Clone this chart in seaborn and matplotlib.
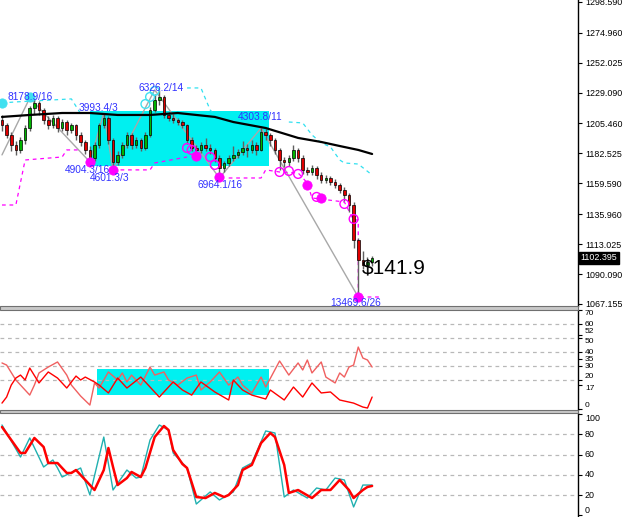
import seaborn as sns
import matplotlib.pyplot as plt
from matplotlib.patches import Rectangle

sns.set_style("white")
plt.rcParams['font.family'] = ['Liberation Sans', 'DejaVu Sans']

# price candles, bar 0 .. 80
opens = [1208.0, 1204.3, 1196.7, 1189.0, 1185.2, 1192.9, 1202.1, 1217.4, 1221.2, 1215.8,
         1208.2, 1204.3, 1209.7, 1202.1, 1206.6, 1200.5, 1204.3, 1196.7, 1191.3, 1185.2,
         1179.0, 1189.0, 1204.3, 1209.7, 1192.9, 1176.0, 1181.4, 1189.0, 1196.7, 1189.0,
         1192.9, 1186.7, 1196.7, 1215.8, 1223.5, 1225.8, 1212.0, 1209.7, 1208.2, 1206.6,
         1204.3, 1192.9, 1186.7, 1185.2, 1189.0, 1186.7, 1185.2, 1179.0, 1171.4, 1175.2,
         1179.0, 1181.4, 1183.7, 1186.7, 1185.2, 1189.0, 1185.2, 1199.0, 1196.7, 1192.9,
         1185.2, 1177.5, 1176.0, 1179.0, 1185.2, 1179.0, 1169.9, 1168.3, 1171.4, 1166.0,
         1162.2, 1163.7, 1160.7, 1158.4, 1154.5, 1150.7, 1143.0, 1116.2, 1100.9, 1097.1,
         1099.4]
highs = [1212.0, 1206.0, 1199.0, 1192.0, 1195.0, 1204.0, 1219.0, 1224.6, 1222.5, 1217.0,
         1211.0, 1212.0, 1211.0, 1209.0, 1208.0, 1206.0, 1205.0, 1199.0, 1193.0, 1188.0,
         1191.0, 1206.0, 1213.5, 1211.0, 1194.0, 1184.0, 1191.0, 1199.0, 1198.0, 1195.0,
         1194.0, 1199.0, 1218.0, 1228.0, 1231.2, 1227.0, 1214.0, 1213.0, 1210.0, 1208.0,
         1205.0, 1195.0, 1189.0, 1191.0, 1194.0, 1190.0, 1187.0, 1181.0, 1177.0, 1181.0,
         1188.0, 1186.0, 1192.0, 1190.0, 1193.0, 1191.0, 1202.0, 1201.0, 1198.0, 1194.0,
         1187.0, 1180.0, 1181.0, 1189.0, 1187.0, 1181.0, 1172.0, 1174.0, 1173.0, 1168.0,
         1166.0, 1165.0, 1163.0, 1160.0, 1157.0, 1152.0, 1145.0, 1118.0, 1108.0, 1103.0,
         1104.0]
lows = [1200.0, 1194.0, 1184.0, 1181.0, 1183.0, 1190.0, 1200.0, 1213.0, 1212.0, 1205.0,
        1201.0, 1202.0, 1199.0, 1200.0, 1197.0, 1198.0, 1193.0, 1188.0, 1182.0, 1175.9,
        1177.0, 1187.0, 1202.0, 1190.0, 1169.9, 1174.0, 1179.0, 1187.0, 1186.0, 1187.0,
        1184.0, 1185.0, 1195.0, 1214.0, 1220.0, 1210.0, 1207.0, 1206.0, 1204.0, 1202.0,
        1190.0, 1184.0, 1181.4, 1183.0, 1184.0, 1182.0, 1176.0, 1163.7, 1168.0, 1173.0,
        1177.0, 1179.0, 1181.0, 1180.0, 1183.0, 1181.0, 1184.0, 1193.0, 1188.0, 1182.0,
        1170.0, 1172.0, 1173.0, 1177.0, 1176.0, 1167.0, 1166.0, 1166.0, 1163.0, 1160.0,
        1160.0, 1158.0, 1156.0, 1152.0, 1146.0, 1138.0, 1110.0, 1072.5, 1094.0, 1089.0,
        1096.0]
closes = [1204.3, 1196.7, 1189.0, 1185.2, 1192.9, 1202.1, 1217.4, 1221.2, 1215.8, 1208.2,
          1204.3, 1209.7, 1202.1, 1206.6, 1200.5, 1204.3, 1196.7, 1191.3, 1185.2, 1179.0,
          1189.0, 1204.3, 1209.7, 1192.9, 1176.0, 1181.4, 1189.0, 1196.7, 1189.0, 1192.9,
          1186.7, 1196.7, 1215.8, 1223.5, 1225.8, 1212.0, 1209.7, 1208.2, 1206.6, 1204.3,
          1192.9, 1186.7, 1185.2, 1189.0, 1186.7, 1185.2, 1179.0, 1171.4, 1175.2, 1179.0,
          1181.4, 1183.7, 1186.7, 1185.2, 1189.0, 1185.2, 1199.0, 1196.7, 1192.9, 1185.2,
          1177.5, 1176.0, 1179.0, 1185.2, 1179.0, 1169.9, 1168.3, 1171.4, 1166.0, 1162.2,
          1163.7, 1160.7, 1158.4, 1154.5, 1150.7, 1143.0, 1116.2, 1100.9, 1097.1, 1099.4,
          1102.4]
bars = list(range(len(closes)))
last_price = 1102.395

# moving average
ma_bars = [0, 6, 13, 19, 25, 32, 38, 46, 50, 57, 64, 69, 73, 77, 80]
ma_vals = [1210.5, 1212.0, 1213.5, 1213.5, 1212.0, 1212.0, 1213.5, 1210.5, 1206.6, 1202.0,
           1194.4, 1191.3, 1188.2, 1185.2, 1182.1]

# zigzag
zz_bars = [0, 6, 19, 22, 24, 33, 47, 56, 77]
zz_vals = [1181.4, 1225.0, 1176.0, 1213.5, 1169.9, 1231.2, 1163.7, 1202.0, 1072.5]

# upper (cyan) and lower (magenta) dashed envelopes, drawn as segments
up_segments = [
    ([0, 3, 15, 17], [1221.2, 1222.0, 1224.3, 1213.0]),
    ([40, 43, 45, 46], [1232.7, 1232.7, 1215.8, 1212.0]),
    ([62, 65, 67, 69, 71, 73, 74, 77, 80],
     [1206.6, 1205.9, 1196.7, 1190.6, 1187.5, 1177.5, 1175.2, 1174.4, 1166.0]),
]
lo_segments = [
    ([0, 3, 5, 13, 14, 17], [1143.0, 1143.0, 1177.5, 1179.8, 1185.2, 1185.2]),
    ([24, 32, 33, 40], [1169.9, 1169.9, 1175.2, 1179.8]),
    ([49, 56, 57, 60, 64, 66, 67, 74, 76, 77, 77, 82],
     [1163.7, 1163.7, 1169.9, 1168.3, 1167.6, 1159.9, 1148.4, 1145.3, 1131.5, 1131.5,
      1072.5, 1072.5]),
]

# signal points
mag_fill_bars = [19, 24, 42, 47, 66, 69, 77]
mag_fill_vals = [1176.0, 1169.9, 1180.6, 1164.5, 1158.4, 1148.4, 1072.5]
mag_open_bars = [40, 41, 45, 46, 60, 62, 64, 68, 74, 76]
mag_open_vals = [1186.7, 1185.2, 1179.8, 1173.7, 1168.3, 1169.1, 1166.8, 1149.2, 1143.8, 1132.3]
cyan_fill_bars = [0, 6]
cyan_fill_vals = [1221.2, 1225.8]
cyan_open_bars = [31, 32, 33]
cyan_open_vals = [1220.4, 1225.8, 1230.4]

# zigzag labels
lbl_text = ["8178.9/16", "3993.4/3", "4904.3/16", "4601.3/3", "6326.2/14",
            "6964.1/16", "4303.8/11", "13469.6/26"]
lbl_bars = [1.1, 16.6, 13.6, 19.0, 29.6, 42.2, 51.0, 70.9]
lbl_vals = [1225.8, 1217.4, 1169.9, 1163.7, 1232.7, 1158.4, 1210.5, 1067.9]

# range box (bars, price range)
box_bars = [19, 57.7]
box_vals = [1172.9, 1215.1]

price_ticks = [1298.590, 1274.960, 1252.025, 1229.090, 1205.460, 1182.525,
               1159.590, 1135.960, 1113.025, 1090.090, 1067.155]

# middle indicator, two lines
adx_a_bars = [0, 1, 3, 6, 7, 8, 10, 12, 14, 15, 17, 19, 20, 21, 23, 25, 26, 27, 28, 30,
              32, 33, 35, 36, 38, 40, 42, 43, 45, 47, 49, 51, 52, 54, 56, 57, 60, 61, 62,
              64, 65, 66, 67, 69, 70, 72, 73, 74, 75, 76, 77, 78, 79, 80]
adx_a_vals = [32.4, 30.9, 20.3, 9.6, 16.7, 25.3, 29.5, 33.1, 23.8, 16.7, 8.9, 2.5, 18.2,
              14.6, 26.0, 20.3, 25.3, 18.9, 23.8, 16.7, 29.5, 23.8, 26.0, 20.3, 16.7, 21.7,
              23.8, 13.2, 18.9, 26.0, 16.7, 22.4, 16.7, 11.1, 22.4, 15.3, 33.8, 28.8, 23.8,
              32.4, 27.4, 34.5, 25.3, 33.1, 22.4, 18.2, 25.3, 22.4, 29.5, 30.9, 43.7, 35.9,
              34.5, 29.5]
adx_b_bars = [0, 1, 2, 3, 4, 5, 6, 8, 10, 12, 14, 16, 17, 18, 20, 21, 23, 25, 27, 30, 34,
              37, 39, 41, 43, 46, 49, 50, 52, 54, 57, 58, 61, 63, 65, 67, 69, 71, 73, 76,
              78, 79, 80]
adx_b_vals = [3.9, 8.2, 16.7, 21.7, 23.8, 20.3, 28.8, 18.2, 26.0, 21.7, 14.6, 23.1, 20.3,
              22.4, 18.9, 16.7, 11.1, 21.7, 14.6, 22.4, 8.2, 18.9, 13.2, 9.6, 18.9, 11.8,
              6.1, 20.3, 13.2, 9.6, 6.8, 13.2, 6.1, 15.3, 8.2, 18.2, 11.1, 11.8, 6.1, 3.9,
              1.1, 0.4, 8.2]
adx_box_bars = [20.5, 57.7]
adx_box_vals = [9.6, 28.1]
adx_ticks = [0, 17, 20, 30, 35, 40, 50, 52, 60, 70]

# stochastic
stk_bars = [0, 2, 4, 5, 7, 9, 10, 12, 14, 15, 16, 18, 20, 22, 23, 24, 25, 27, 28, 30, 31,
            33, 35, 36, 37, 39, 40, 42, 44, 46, 48, 49, 51, 52, 54, 56, 58, 59, 61, 62,
            64, 67, 69, 71, 73, 75, 76, 78, 79, 80]
stk_vals = [87.2, 74.4, 61.6, 61.6, 76.4, 67.5, 51.7, 51.7, 41.9, 41.9, 44.8, 35.0, 25.1,
            44.8, 66.5, 47.8, 30.0, 36.9, 42.9, 37.9, 46.8, 77.3, 88.2, 84.2, 64.5, 50.7,
            46.8, 18.2, 17.2, 22.2, 18.2, 20.2, 30.0, 44.8, 49.8, 71.4, 81.3, 77.3, 49.8,
            22.2, 25.1, 17.2, 25.1, 25.1, 35.0, 25.1, 17.2, 25.1, 28.1, 29.1]
sig_bars = [0, 4, 6, 9, 11, 12, 13, 17, 19, 22, 24, 27, 29, 30, 32, 34, 36, 37, 40, 42,
            45, 47, 50, 52, 54, 57, 59, 61, 63, 66, 68, 70, 72, 74, 76, 78, 80]
sig_vals = [89.2, 57.6, 76.4, 47.8, 54.7, 46.8, 37.9, 46.8, 20.2, 77.3, 25.1, 44.8, 36.9,
            37.9, 74.4, 89.2, 84.2, 61.6, 46.8, 11.3, 23.2, 15.3, 23.2, 46.8, 51.7, 83.3,
            81.3, 18.2, 25.1, 17.2, 27.1, 25.1, 36.9, 35.0, 8.4, 30.0, 30.0]
stk_ticks = [0, 20, 40, 60, 80, 100]

BLUE = "#3030ff"
MAG = "#ff00ff"
CYAN = "#00f0f0"
W, H = 625, 517

fig = plt.figure(figsize=(6.25, 5.17), dpi=100)
ax1 = fig.add_axes([0, 1 - 306 / H, 578 / W, 306 / H])
ax2 = fig.add_axes([0, 1 - 410 / H, 578 / W, 100 / H])
ax3 = fig.add_axes([0, 0, 578 / W, 104 / H])

# ---- main price panel ----
ax1.fill_between(box_bars, box_vals[0], box_vals[1], color=CYAN, lw=0, zorder=0)
sns.lineplot(x=zz_bars, y=zz_vals, ax=ax1, color="#a8a8a8", lw=1, sort=False,
             estimator=None, zorder=1)
for bx, vy in up_segments:
    sns.lineplot(x=bx, y=vy, ax=ax1, color="#30e0f0", lw=0.9, ls=(0, (3, 3)),
                 sort=False, estimator=None, zorder=1)
for bx, vy in lo_segments:
    sns.lineplot(x=bx, y=vy, ax=ax1, color=MAG, lw=0.9, ls=(0, (3, 3)),
                 sort=False, estimator=None, zorder=1)

ax1.vlines(bars, lows, highs, color="#606060", lw=1, zorder=2)
body_low = [min(o, c) for o, c in zip(opens, closes)]
body_h = [max(abs(c - o), 0.4) for o, c in zip(opens, closes)]
body_col = ["#00b400" if c >= o else "#e00000" for o, c in zip(opens, closes)]
ax1.bar(bars, body_h, bottom=body_low, width=0.55, color=body_col,
        edgecolor="black", lw=0.5, zorder=3)

sns.lineplot(x=ma_bars, y=ma_vals, ax=ax1, color="black", lw=1.6, zorder=4)

sns.scatterplot(x=mag_fill_bars, y=mag_fill_vals, ax=ax1, color=MAG, s=45,
                edgecolor=MAG, zorder=5)
ax1.scatter(mag_open_bars, mag_open_vals, s=40, facecolors="none", edgecolors=MAG,
            lw=1, zorder=5)
sns.scatterplot(x=cyan_fill_bars, y=cyan_fill_vals, ax=ax1, color="#40e0f0", s=45,
                edgecolor="#40e0f0", zorder=5)
ax1.scatter(cyan_open_bars, cyan_open_vals, s=40, facecolors="none",
            edgecolors="#40e0f0", lw=1, zorder=5)

for t, bx, vy in zip(lbl_text, lbl_bars, lbl_vals):
    ax1.text(bx, vy, t, color=BLUE, fontsize=7.3, ha="left", va="center", zorder=6,
             clip_on=True)
ax1.text(77.8, 1094.8, "$141.9", color="black", fontsize=15, ha="left", va="center",
         zorder=6)

ax1.set_xlim(-0.43, 124.5)
ax1.set_ylim(1065.6, 1300.1)
ax1.set_yticks(price_ticks)
ax1.set_yticklabels([f"{v:.3f}" for v in price_ticks])
ax1.text(1.004, last_price, f"{last_price:.3f}", transform=ax1.get_yaxis_transform(),
         ha="left", va="center", color="white", fontsize=6.4, clip_on=False,
         bbox=dict(facecolor="black", edgecolor="black", pad=1.2), zorder=7)

# ---- middle indicator panel ----
ax2.fill_between(adx_box_bars, adx_box_vals[0], adx_box_vals[1], color=CYAN, lw=0,
                 zorder=0)
for g in [20, 30, 40, 50, 60]:
    ax2.axhline(g, color="#b8b8b8", lw=0.9, ls=(0, (3, 3)), zorder=1)
sns.lineplot(x=adx_a_bars, y=adx_a_vals, ax=ax2, color="#f06060", lw=1, zorder=2)
sns.lineplot(x=adx_b_bars, y=adx_b_vals, ax=ax2, color="#ff0000", lw=1, zorder=2)
ax2.set_xlim(-0.43, 124.5)
ax2.set_ylim(-1, 70)
ax2.set_yticks(adx_ticks)
ax2.set_yticklabels([str(v) for v in adx_ticks])

# ---- stochastic panel ----
for g in [20, 40, 60, 80]:
    ax3.axhline(g, color="#b8b8b8", lw=0.9, ls=(0, (3, 3)), zorder=1)
sns.lineplot(x=sig_bars, y=sig_vals, ax=ax3, color="#20b0b0", lw=1, zorder=2)
sns.lineplot(x=stk_bars, y=stk_vals, ax=ax3, color="#ff0000", lw=1.8, zorder=3)
ax3.set_xlim(-0.43, 124.5)
ax3.set_ylim(-1.5, 101)
ax3.set_yticks(stk_ticks)
ax3.set_yticklabels([str(v) for v in stk_ticks])

for ax in (ax1, ax2, ax3):
    ax.set_xlabel("")
    ax.set_ylabel("")
    ax.set_xticks([])
    ax.yaxis.tick_right()
    ax.tick_params(axis="y", direction="out", length=3, width=0.8, pad=2,
                   labelsize=6.4, colors="black")
    for side in ("left", "top", "bottom"):
        ax.spines[side].set_visible(False)
    ax.spines["right"].set_color("black")
    ax.spines["right"].set_linewidth(1)
    ax.set_facecolor("white")

ax2.tick_params(axis="y", labelsize=6)

# keep the edge labels inside their panel and pull close pairs apart
va_adx = {70: "top", 52: "bottom", 50: "top", 20: "bottom", 17: "top", 0: "bottom"}
for tick, v in zip(ax2.yaxis.get_major_ticks(), adx_ticks):
    tick.label2.set_va(va_adx.get(v, "center"))
va_stk = {100: "top", 0: "bottom"}
for tick, v in zip(ax3.yaxis.get_major_ticks(), stk_ticks):
    tick.label2.set_va(va_stk.get(v, "center"))

# panel separators
for top, bot in [(306, 310), (410, 413)]:
    fig.add_artist(Rectangle((0, 1 - bot / H), 578 / W, (bot - top) / H,
                             transform=fig.transFigure, facecolor="#c8c8c8",
                             edgecolor="#707070", lw=0.8))

fig.savefig("out.png", dpi=100)
